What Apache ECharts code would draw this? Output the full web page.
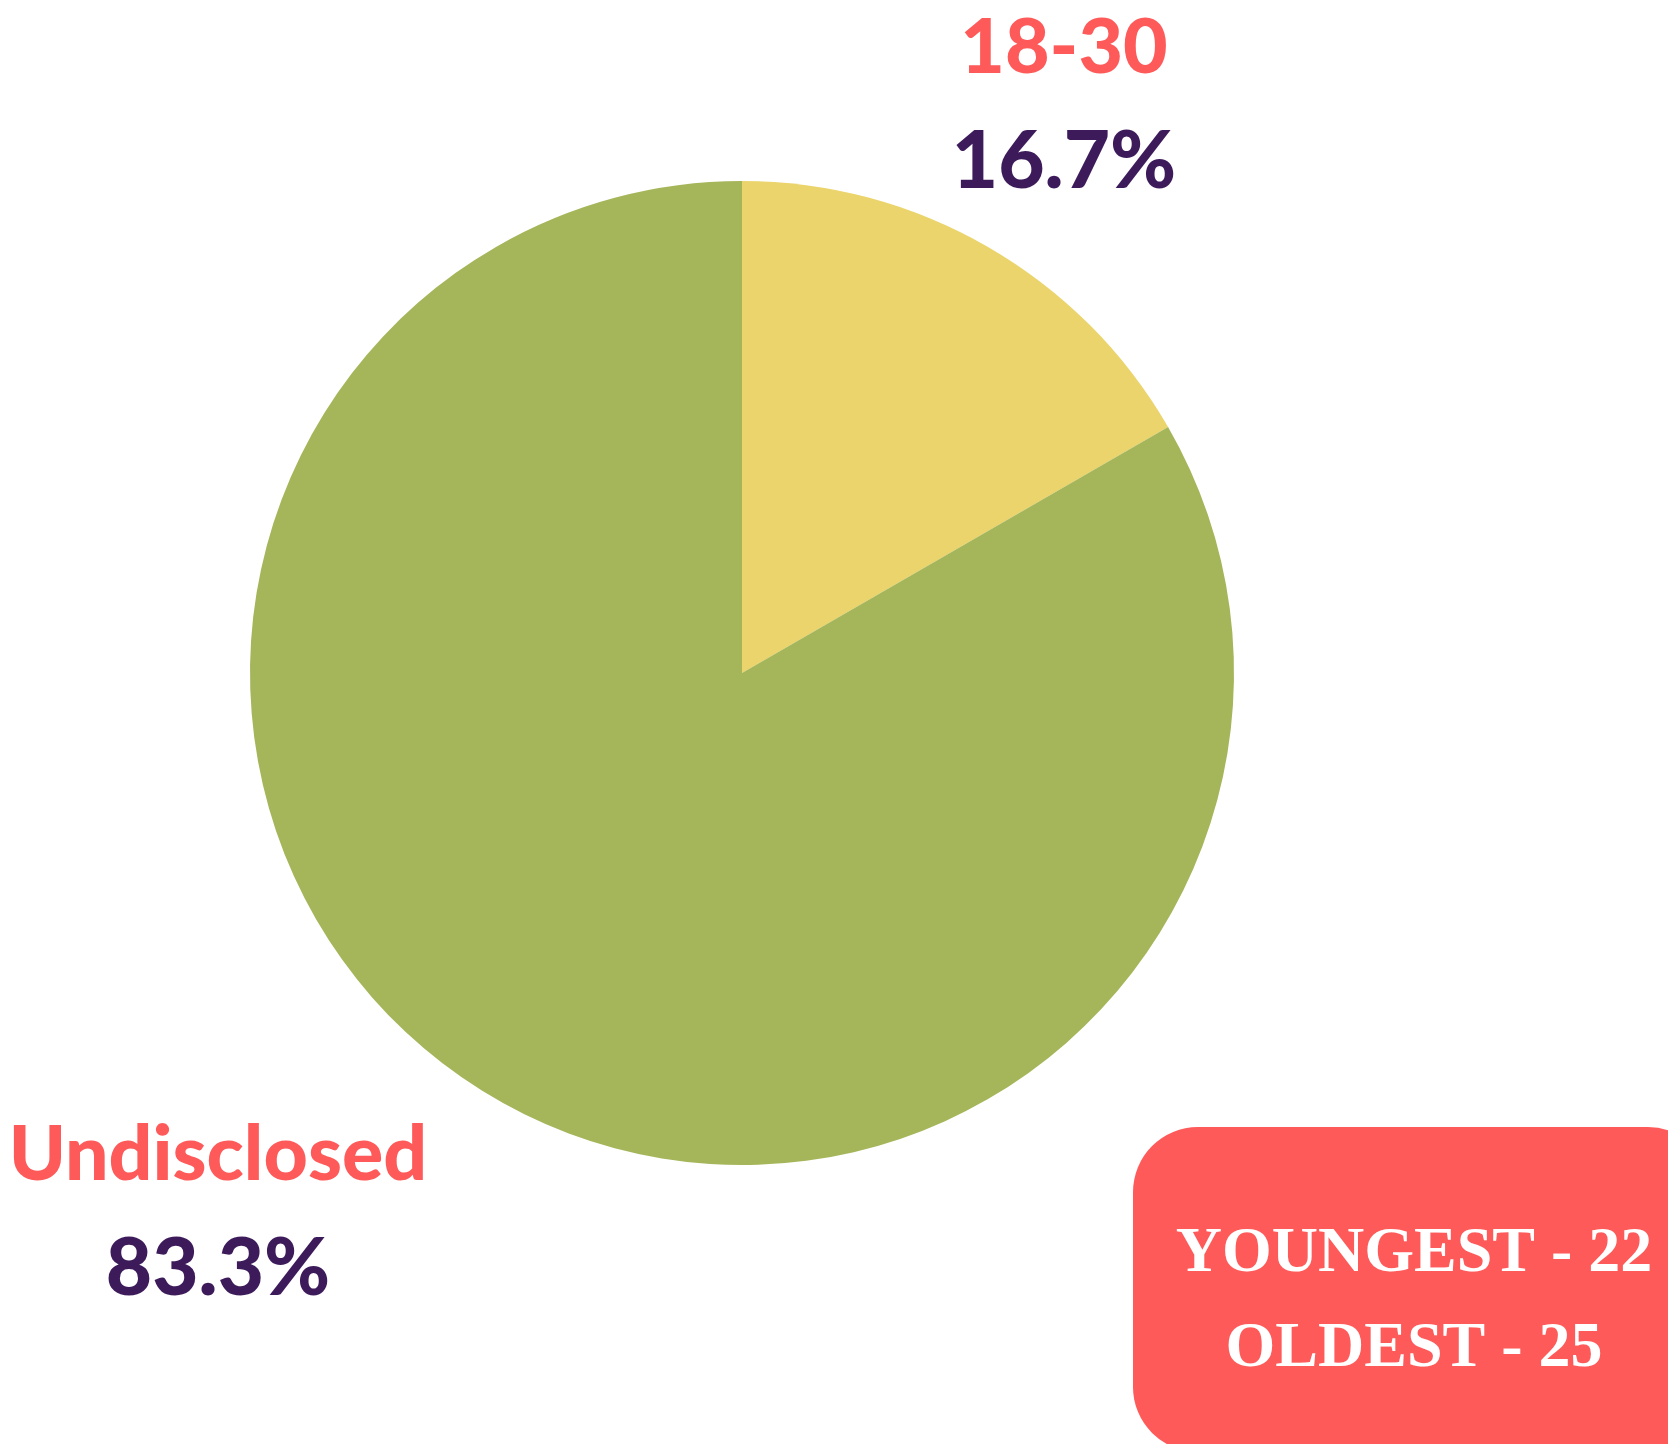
<!DOCTYPE html>
<html>
<head>
<meta charset="utf-8">
<script src="https://cdn.jsdelivr.net/npm/echarts@6/dist/echarts.min.js"></script>
<style>
  html, body { margin: 0; padding: 0; background: #ffffff; }
  #chart { width: 1668px; height: 1444px; }
</style>
</head>
<body>
<div id="chart"></div>
<script>
// ---- data ----
const categories = ['18-30', 'Undisclosed'];
const values = [1, 5];
const sliceColors = ['#EAD46B', '#A5B65A'];
const boxLines = ['YOUNGEST - 22', 'OLDEST - 25'];

// label anchor positions (style, not data)
const labelPos = [[1064, 105], [218, 1212]];

const chart = echarts.init(document.getElementById('chart'), null, { renderer: 'canvas' });

const option = {
  backgroundColor: '#ffffff',
  animation: false,
  series: [{
    type: 'pie',
    center: [742, 673],
    radius: [0, 492],
    startAngle: 90,
    clockwise: true,
    avoidLabelOverlap: false,
    itemStyle: { borderWidth: 0 },
    emphasis: { disabled: true },
    labelLine: { show: false },
    label: {
      show: true,
      position: 'outside',
      formatter: p => '{name|' + p.name + '}\n{pct|' + p.percent.toFixed(1) + '%}',
      rich: {
        name: {
          fontFamily: 'Lato', fontWeight: 900, fontSize: 77,
          color: '#FF5A5A', lineHeight: 114, align: 'center'
        },
        pct: {
          fontFamily: 'Lato', fontWeight: 900, fontSize: 80,
          color: '#3D1B5B', lineHeight: 114, align: 'center'
        }
      }
    },
    labelLayout: function (params) {
      const pos = labelPos[params.dataIndex];
      return { x: pos[0], y: pos[1], align: 'center', verticalAlign: 'middle', draggable: false };
    },
    data: categories.map((c, i) => ({
      name: c,
      value: values[i],
      itemStyle: { color: sliceColors[i] }
    }))
  }],
  graphic: [{
    type: 'group',
    children: [{
      type: 'rect',
      shape: { x: 1133, y: 1127, width: 580, height: 325, r: 65 },
      style: { fill: '#FF5A5A' }
    }, {
      type: 'text',
      x: 1414,
      y: 1302,
      style: {
        text: boxLines.join('\n'),
        fill: '#ffffff',
        fontFamily: 'Liberation Serif',
        fontWeight: 'bold',
        fontSize: 64,
        lineHeight: 95,
        align: 'center',
        verticalAlign: 'middle'
      }
    }]
  }]
};

chart.setOption(option);
</script>
</body>
</html>
